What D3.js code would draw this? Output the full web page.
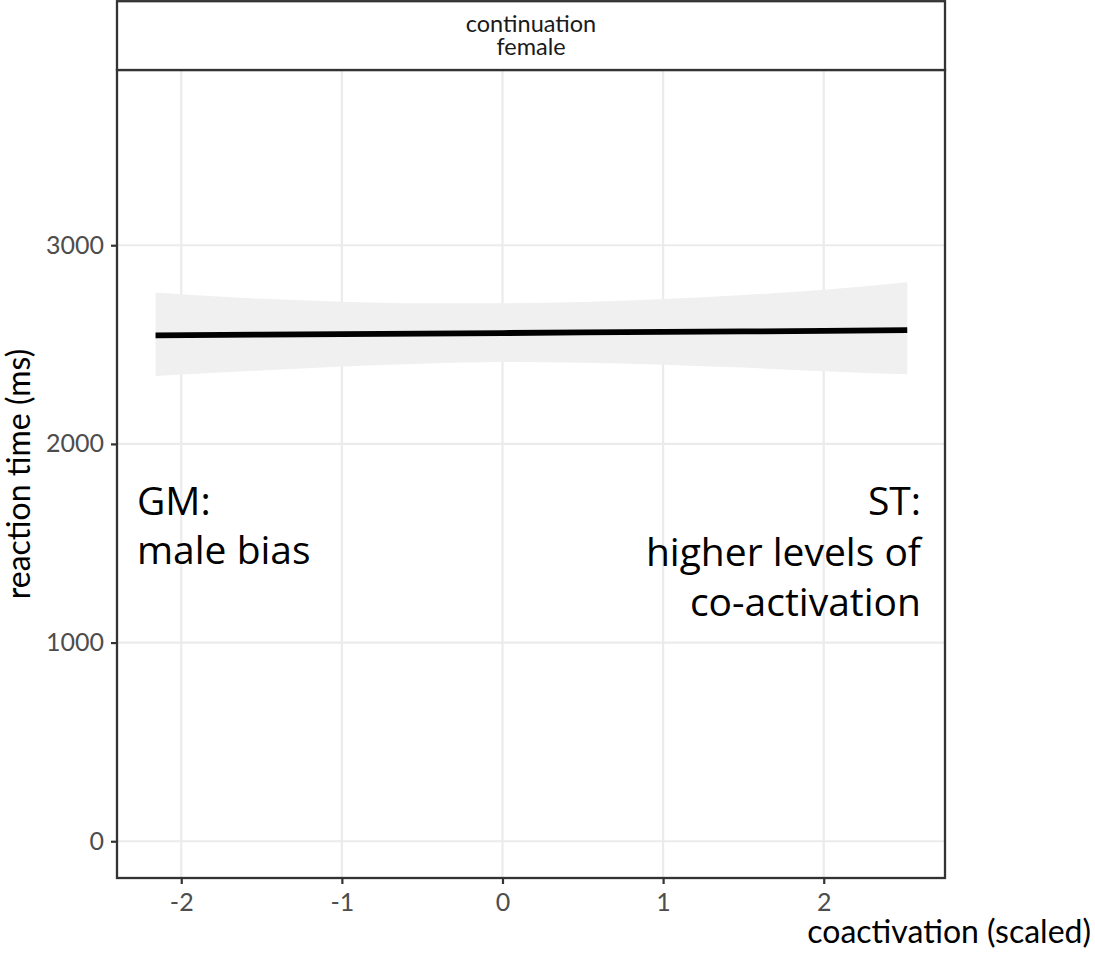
<!DOCTYPE html>
<html>
<head>
<meta charset="utf-8">
<script src="https://cdn.jsdelivr.net/npm/d3@7"></script>
<style>
  body { margin: 0; background: #fff; }
  svg { display: block; font-family: Lato, "Open Sans", sans-serif; }
</style>
</head>
<body>
<div id="chart"></div>
<script>
// facet label
const stripLines = ["continuation", "female"];

// fitted line + confidence band
const coact = [-2.16, -1.5, -1, -0.5, 0, 0.5, 1, 1.5, 2, 2.52];
const fitRT = [2546, 2550, 2553, 2555, 2558, 2561, 2564, 2566, 2569, 2573];
const lowerRT = [2342, 2370, 2390, 2404, 2412, 2408, 2399, 2384, 2366, 2350];
const upperRT = [2762, 2730, 2716, 2708, 2708, 2714, 2729, 2749, 2776, 2814];

// ticks
const xTicks = [-2, -1, 0, 1, 2];
const yTicks = [0, 1000, 2000, 3000];

// annotation text
const leftNote = ["GM:", "male bias"];
const rightNote = ["ST:", "higher levels of", "co-activation"];

const width = 1095;
const height = 953;
const margin = { top: 70, bottom: 75, left: 117, right: 150 };
const innerWidth = width - margin.left - margin.right;
const innerHeight = height - margin.top - margin.bottom;

const svg = d3.select("#chart")
    .append("svg")
    .attr("width", width)
    .attr("height", height);

const g = svg.append("g")
    .attr("transform", `translate(${margin.left},${margin.top})`);

const x = d3.scaleLinear()
    .domain([-2.4, 2.755])
    .range([0, innerWidth]);

const y = d3.scaleLinear()
    .domain([-185, 3882])
    .range([innerHeight, 0]);

// --- grid ---
g.append("g").selectAll("line")
    .data(xTicks)
    .join("line")
    .attr("x1", d => x(d)).attr("x2", d => x(d))
    .attr("y1", 0).attr("y2", innerHeight)
    .attr("stroke", "#ebebeb")
    .attr("stroke-width", 2.2);

g.append("g").selectAll("line")
    .data(yTicks)
    .join("line")
    .attr("y1", d => y(d)).attr("y2", d => y(d))
    .attr("x1", 0).attr("x2", innerWidth)
    .attr("stroke", "#ebebeb")
    .attr("stroke-width", 2.2);

// --- confidence band + line ---
const fitData = coact.map((c, i) => ({ x: c, fit: fitRT[i], lo: lowerRT[i], hi: upperRT[i] }));

g.append("path")
    .datum(fitData)
    .attr("fill", "#f0f0f0")
    .attr("d", d3.area()
        .x(d => x(d.x))
        .y0(d => y(d.lo))
        .y1(d => y(d.hi))
        .curve(d3.curveMonotoneX));

g.append("path")
    .datum(fitData)
    .attr("fill", "none")
    .attr("stroke", "#000")
    .attr("stroke-width", 5.8)
    .attr("d", d3.line()
        .x(d => x(d.x))
        .y(d => y(d.fit)));

// --- annotations ---
const noteSize = 39;
const noteFont = "'Open Sans', 'Noto Sans', sans-serif";
g.append("text")
    .attr("y", 445)
    .style("font-size", noteSize + "px")
    .style("font-family", noteFont)
    .attr("fill", "#000")
    .selectAll("tspan")
    .data(leftNote)
    .join("tspan")
    .attr("x", 20)
    .attr("dy", (d, i) => i === 0 ? 0 : 49)
    .text(d => d);

g.append("text")
    .attr("y", 445)
    .attr("text-anchor", "end")
    .style("font-size", noteSize + "px")
    .style("font-family", noteFont)
    .attr("fill", "#000")
    .selectAll("tspan")
    .data(rightNote)
    .join("tspan")
    .attr("x", innerWidth - 24)
    .attr("dy", (d, i) => i === 0 ? 0 : 50.5)
    .text(d => d);

// --- axes ---
const xAxis = g.append("g")
    .attr("transform", `translate(0,${innerHeight})`)
    .call(d3.axisBottom(x).tickValues(xTicks).tickSize(6).tickPadding(9).tickFormat(d3.format("d")));

const yAxis = g.append("g")
    .call(d3.axisLeft(y).tickValues(yTicks).tickSize(6).tickPadding(7).tickFormat(d => d));

[xAxis, yAxis].forEach(ax => {
    ax.select(".domain").remove();
    ax.selectAll(".tick line").attr("stroke", "#333").attr("stroke-width", 2.2);
    ax.selectAll(".tick text")
        .attr("fill", "#4d4d4d")
        .style("font-size", "25px")
        .style("font-family", "Lato, sans-serif");
});
xAxis.selectAll(".tick text").text(d => d < 0 ? "-" + Math.abs(d) : d);

// panel border
g.append("rect")
    .attr("x", 0).attr("y", 0)
    .attr("width", innerWidth).attr("height", innerHeight)
    .attr("fill", "none")
    .attr("stroke", "#333")
    .attr("stroke-width", 2.3);

// --- strip ---
const strip = svg.append("g")
    .attr("transform", `translate(${margin.left},0)`);

strip.append("rect")
    .attr("x", 0).attr("y", 1.2)
    .attr("width", innerWidth).attr("height", margin.top - 1.2)
    .attr("fill", "#fff")
    .attr("stroke", "#333")
    .attr("stroke-width", 2.3);

strip.append("text")
    .attr("text-anchor", "middle")
    .style("font-size", "23.5px")
    .attr("fill", "#1a1a1a")
    .selectAll("tspan")
    .data(stripLines)
    .join("tspan")
    .attr("x", innerWidth / 2)
    .attr("y", (d, i) => 31.5 + i * 23.5)
    .text(d => d);

// --- axis titles ---
svg.append("text")
    .attr("x", 1091)
    .attr("y", 943)
    .attr("text-anchor", "end")
    .style("font-size", "32px")
    .attr("fill", "#000")
    .text("coactivation (scaled)");

svg.append("text")
    .attr("transform", `translate(30,${margin.top + innerHeight / 2}) rotate(-90)`)
    .attr("text-anchor", "middle")
    .style("font-size", "32px")
    .attr("fill", "#000")
    .text("reaction time (ms)");
</script>
</body>
</html>
